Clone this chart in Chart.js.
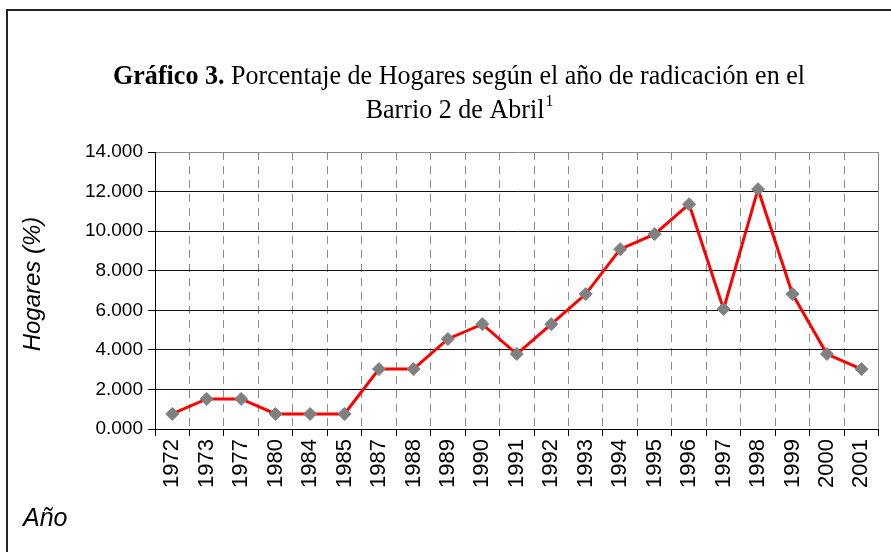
<!DOCTYPE html>
<html>
<head>
<meta charset="utf-8">
<script src="https://cdn.jsdelivr.net/npm/chart.js@4"></script>
<style>
  body { margin: 0; background: #fff; }
  canvas { display: block; }
</style>
</head>
<body>
<canvas id="myChart" width="891" height="552"></canvas>
<script>
// años de radicación y porcentaje de hogares
var years = ['1972', '1973', '1977', '1980', '1984', '1985', '1987', '1988', '1989', '1990', '1991',
             '1992', '1993', '1994', '1995', '1996', '1997', '1998', '1999', '2000', '2001'];
var hogares = [0.76, 1.52, 1.52, 0.76, 0.76, 0.76, 3.03, 3.03, 4.55, 5.30, 3.79,
               5.30, 6.82, 9.09, 9.85, 11.36, 6.06, 12.12, 6.82, 3.79, 3.03];
var yMin = 0, yMax = 14, yStep = 2;

// frame, title and axis titles
var decor = {
    id: 'decor',
    afterDraw: function (chart) {
        var c = chart.ctx;
        var area = chart.chartArea;
        c.save();
        // outer frame (left and top only visible)
        c.strokeStyle = '#222';
        c.lineWidth = 2;
        c.beginPath();
        c.moveTo(7, 560);
        c.lineTo(7, 10);
        c.lineTo(900, 10);
        c.stroke();
        // right edge of plot
        c.strokeStyle = '#888';
        c.lineWidth = 1;
        c.beginPath();
        c.moveTo(Math.round(area.right) - 0.5, area.top);
        c.lineTo(Math.round(area.right) - 0.5, area.bottom);
        c.stroke();

        // title, two lines, serif, condensed like the original
        var cx = 459;
        var bold = 'bold 28px "Liberation Serif", "Times New Roman", serif';
        var norm = '28px "Liberation Serif", "Times New Roman", serif';
        var sup = '17px "Liberation Serif", "Times New Roman", serif';
        var p1 = 'Gráfico 3.', p2 = ' Porcentaje de Hogares según el año de radicación en el';
        c.font = bold; var w1 = c.measureText(p1).width;
        c.font = norm; var w2 = c.measureText(p2).width;
        var sx = 692 / (w1 + w2);
        c.fillStyle = '#000';
        c.textBaseline = 'alphabetic';
        c.textAlign = 'left';
        c.save();
        c.translate(cx - 346, 84);
        c.scale(sx, 1);
        c.font = bold; c.fillText(p1, 0, 0);
        c.font = norm; c.fillText(p2, w1, 0);
        c.restore();

        var l2 = 'Barrio 2 de Abril';
        c.font = norm; var w3 = c.measureText(l2).width;
        c.font = sup;
        var w4 = c.measureText('1').width;
        c.save();
        c.translate(cx - (w3 + w4) * sx / 2, 118);
        c.scale(sx, 1);
        c.font = norm; c.fillText(l2, 0, 0);
        c.font = sup;
        c.fillText('1', w3 + 1, -12);
        c.restore();

        // y axis title
        c.font = 'italic 24px "Liberation Sans", Arial, sans-serif';
        c.textAlign = 'center';
        c.textBaseline = 'middle';
        c.save();
        c.translate(33, 284);
        c.rotate(-Math.PI / 2);
        c.fillText('Hogares (%)', 0, 0);
        c.restore();

        // x axis title
        c.textAlign = 'left';
        c.textBaseline = 'alphabetic';
        c.font = 'italic 25px "Liberation Sans", Arial, sans-serif';
        c.fillText('Año', 23, 526);
        c.restore();
    }
};

var ctx = document.getElementById('myChart').getContext('2d');

var chart = new Chart(ctx, {
    type: 'line',
    data: {
        labels: years,
        datasets: [{
            label: 'Hogares (%)',
            data: hogares,
            borderColor: '#ff0000',
            borderWidth: 3,
            tension: 0,
            fill: false,
            pointStyle: 'rectRot',
            pointRadius: 6.5,
            pointBackgroundColor: '#808080',
            pointBorderColor: '#808080',
            pointBorderWidth: 1
        }]
    },
    options: {
        responsive: false,
        animation: false,
        layout: { padding: { top: 152, right: 8, left: 0, bottom: 0 } },
        plugins: {
            legend: { display: false },
            tooltip: { enabled: false },
            title: { display: false }
        },
        scales: {
            x: {
                offset: true,
                afterFit: function (scale) { scale.height = 123; },
                grid: {
                    offset: true,
                    color: function (c) {
                        if (c.index === 0 || c.index === years.length) return 'rgba(0,0,0,0)';
                        return '#8c8c8c';
                    },
                    tickColor: '#000',
                    tickLength: 7,
                    tickBorderDash: []
                },
                border: { color: '#000', width: 1, dash: [8, 6] },
                ticks: {
                    minRotation: 90,
                    maxRotation: 90,
                    autoSkip: false,
                    padding: 3,
                    color: '#000',
                    font: { family: '"Liberation Sans", Arial, sans-serif', size: 22 }
                }
            },
            y: {
                min: yMin,
                max: yMax,
                afterFit: function (scale) { scale.width = 155; },
                grid: {
                    color: function (c) {
                        return c.tick && c.tick.value === yMax ? '#888' : '#111';
                    },
                    tickColor: '#000',
                    tickLength: 7
                },
                border: { color: '#000', width: 1 },
                ticks: {
                    stepSize: yStep,
                    padding: 5,
                    color: '#000',
                    font: { family: '"Liberation Sans", Arial, sans-serif', size: 19 },
                    callback: function (v) { return v.toFixed(3); }
                }
            }
        }
    },
    plugins: [decor]
});
</script>
</body>
</html>
